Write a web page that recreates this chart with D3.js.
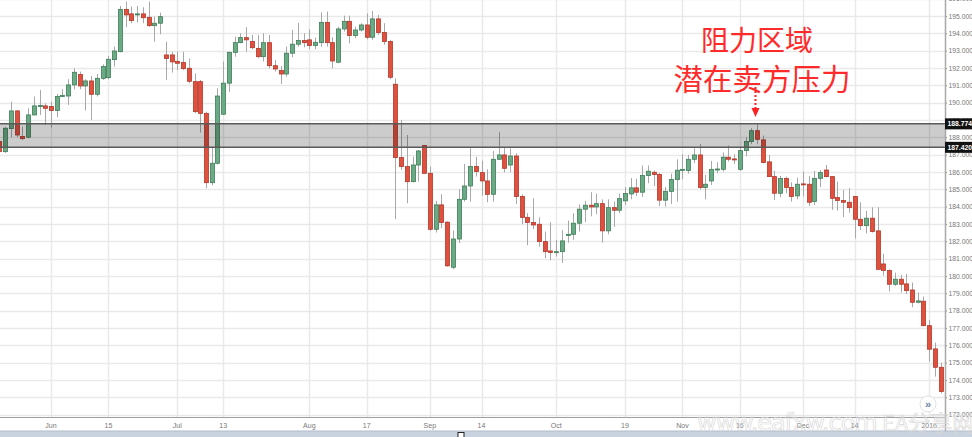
<!DOCTYPE html>
<html><head><meta charset="utf-8">
<script src="https://cdn.jsdelivr.net/npm/d3@7"></script>
<style>body{margin:0;background:#fff}svg{display:block}</style>
</head><body>
<script>
// ---- data ----
const startDate = "2015-05-19", endDate = "2016-01-06";
const holidays = ["2015-12-25", "2016-01-01"];
const open  = [187.75,187.17,188.5,189.52,188.04,188.0,189.29,189.79,189.81,189.77,189.54,190.35,190.38,191.02,191.62,190.96,191.25,190.48,191.4,191.44,192.48,192.94,195.38,195.12,195.06,195.12,194.92,194.44,194.58,192.75,192.75,192.38,192.31,191.98,191.21,191.21,189.38,185.38,186.5,189.33,191.12,192.9,193.46,193.75,193.52,193.13,192.65,193.46,192.13,191.85,191.65,192.85,193.37,193.58,193.62,193.29,193.46,194.63,193.46,192.33,194.25,194.69,193.87,194.19,194.48,193.77,194.83,194.04,193.52,191.06,186.83,186.31,185.44,186.4,187.52,185.92,182.69,184.1,183.1,180.5,182.13,184.42,185.19,186.31,185.96,185.48,184.71,186.73,186.98,186.4,186.92,184.58,183.38,183.08,182.98,181.98,181.44,181.35,181.4,182.33,182.4,183.04,183.85,184.08,183.98,184.17,182.6,183.94,183.79,184.33,184.73,185.08,184.83,185.79,185.98,185.85,184.37,184.88,185.56,186.1,186.08,186.73,186.98,185.1,185.48,186.15,186.15,186.85,186.75,186.15,187.23,187.75,188.38,187.85,186.58,185.73,184.77,185.62,185.1,184.62,185.31,185.29,184.29,185.63,186.11,185.73,184.52,184.35,184.25,184.58,183.27,182.9,183.33,182.6,180.69,180.31,179.52,179.81,179.54,179.19,178.48,178.54,177.13,175.79,174.73];
const high  = [187.85,188.6,190.06,189.58,188.62,189.67,190.35,190.73,189.96,190.06,190.5,190.77,191.35,191.98,191.79,191.35,191.54,191.65,192.21,192.69,193.23,195.58,195.83,195.54,195.58,195.5,195.83,194.96,195.19,193.52,192.94,192.94,192.94,192.54,191.69,191.31,189.48,187.46,190.83,192.37,192.94,193.81,194.0,194.35,193.9,193.9,194.0,193.9,192.46,192.12,193.23,194.19,194.6,194.0,194.23,193.75,195.21,195.25,193.77,194.38,195.02,195.02,194.38,194.58,195.15,195.29,195.06,194.58,193.62,191.4,189.0,188.13,186.88,187.27,187.56,186.31,184.33,184.71,183.15,182.62,185.0,186.46,187.37,186.88,186.65,186.15,187.21,188.29,187.4,187.35,187.08,184.71,183.62,184.48,183.38,182.56,183.1,182.08,182.65,183.19,183.62,184.13,184.33,184.83,184.75,184.42,184.42,184.29,184.75,185.13,185.65,185.6,186.37,186.37,186.08,185.94,185.13,185.9,186.73,187.02,186.98,187.37,187.6,185.83,186.63,186.56,187.12,187.52,187.02,187.46,188.0,188.52,188.79,188.1,186.98,186.06,185.77,185.73,185.4,185.67,186.02,185.77,186.06,186.11,186.4,185.77,185.44,184.96,185.06,184.62,184.25,183.75,183.96,183.96,181.27,180.38,180.19,180.06,180.12,179.62,179.04,178.81,177.46,176.15,175.0];
const low   = [187.1,187.1,188.0,188.0,187.85,187.94,189.25,189.29,188.71,188.56,189.15,190.31,189.87,190.77,190.77,189.54,189.0,190.35,191.31,191.35,192.08,192.9,194.35,194.58,194.62,194.58,194.38,193.52,193.94,191.31,191.73,191.88,191.88,191.12,189.38,188.27,185.06,185.23,186.42,189.29,190.62,192.65,193.42,192.94,193.08,192.56,192.37,191.98,191.79,191.08,191.5,192.62,193.23,193.19,193.08,193.08,193.23,193.23,191.98,192.27,194.1,193.42,193.71,194.1,193.65,193.62,193.9,193.33,191.35,183.27,186.12,184.19,185.4,185.44,185.9,182.6,182.5,182.75,180.54,180.38,181.9,184.29,184.29,185.73,184.63,184.25,184.29,186.69,185.98,186.0,184.15,182.98,181.77,182.71,181.69,181.02,180.9,181.12,180.75,181.92,182.08,182.56,183.1,183.44,183.56,181.92,182.4,182.83,183.62,184.08,184.42,184.6,184.56,185.35,185.19,184.02,184.0,184.15,184.29,185.58,185.9,186.5,185.0,184.42,185.25,185.92,186.02,186.6,186.46,186.06,186.9,187.6,187.6,186.5,185.7,184.38,184.54,184.77,184.29,184.42,184.58,184.04,184.1,185.12,185.69,183.81,183.77,183.4,183.65,182.17,182.65,182.46,182.5,180.35,180.02,179.1,179.42,179.04,178.96,178.19,178.42,177.1,175.06,174.19,173.23];
const close = [187.17,188.52,189.52,188.13,187.92,189.29,189.81,189.83,189.67,189.54,190.35,190.42,191.02,191.75,190.96,191.25,190.48,191.4,192.08,192.5,192.98,195.38,195.06,194.73,195.12,194.9,194.44,194.58,194.96,192.54,192.35,192.27,191.96,191.23,189.48,189.38,185.38,186.5,190.38,191.12,192.9,193.46,193.75,193.62,193.17,192.65,193.46,192.13,191.94,191.65,192.85,193.37,193.58,193.46,193.29,193.48,194.63,193.46,192.4,194.25,194.69,193.87,194.19,194.48,193.77,194.83,194.04,193.52,191.46,186.83,186.31,185.44,186.4,187.21,185.92,182.69,184.1,183.08,180.58,182.13,184.42,185.19,186.31,186.02,185.48,184.71,186.73,186.98,186.21,186.92,184.58,183.38,183.08,182.94,181.98,181.4,181.35,181.4,182.02,182.4,183.04,183.85,184.08,183.98,184.17,182.6,183.94,183.79,184.46,184.75,185.08,184.83,185.79,186.04,185.85,184.37,184.88,185.56,186.1,186.15,186.73,186.98,185.1,185.29,186.15,186.17,186.85,186.73,186.73,187.23,187.75,188.38,187.88,186.54,185.73,184.77,185.62,185.1,184.58,185.29,185.27,184.25,185.63,185.96,185.73,184.48,184.35,184.25,183.94,183.27,182.9,183.33,182.56,180.38,180.31,179.52,179.81,179.52,179.15,178.48,178.56,177.13,175.77,174.73,173.33];
const xTickDates  = ["2015-06-01","2015-06-15","2015-07-01","2015-07-13","2015-08-03","2015-08-17","2015-09-01","2015-09-14","2015-10-01","2015-10-19","2015-11-02","2015-11-16","2015-12-01","2015-12-14","2016-01-04"];
const xTickLabels = ["Jun","15","Jul","13","Aug","17","Sep","14","Oct","19","Nov","16","Dec","14","2016"];
const yTicks = d3.range(172, 197, 1);
const zoneTop = 188.774, zoneBottom = 187.420;
const noteLines = ["阻力区域", "潜在卖方压力"];

// ---- categories (trading days) ----
const fmt = d3.timeFormat("%Y-%m-%d"), parse = d3.timeParse("%Y-%m-%d");
const dates = d3.timeDay.range(parse(startDate), d3.timeDay.offset(parse(endDate), 1))
  .filter(d => d.getDay() !== 0 && d.getDay() !== 6)
  .map(fmt).filter(s => !holidays.includes(s));
const data = dates.map((d, i) => ({d, o: open[i], h: high[i], l: low[i], c: close[i]}));

// ---- layout ----
const W = 972, H = 437, plotR = 945, plotB = 417;
const svg = d3.select("body").append("svg").attr("width", W).attr("height", H)
  .style("font-family", "'Liberation Sans', Arial, sans-serif");
svg.append("rect").attr("width", W).attr("height", H).attr("fill", "#fff");

const x = d3.scaleBand().domain(dates).range([-3.53, -3.53 + 5.74 * dates.length]).padding(0);
const xc = d => x(d) + x.bandwidth() / 2;
const y = d3.scaleLinear().domain([171.86, 195.92]).range([plotB, 0]);

svg.append("defs").append("clipPath").attr("id", "plot")
  .append("rect").attr("x", 0).attr("y", 0).attr("width", plotR).attr("height", plotB);

// grid
const grid = svg.append("g");
grid.selectAll("line.h").data(yTicks).join("line")
  .attr("x1", 0).attr("x2", plotR).attr("y1", d => Math.round(y(d)) + 0.5).attr("y2", d => Math.round(y(d)) + 0.5)
  .attr("stroke", "#e9e9e9").attr("stroke-width", 1.5);
grid.selectAll("line.v").data(xTickDates).join("line")
  .attr("x1", d => Math.round(xc(d)) + 0.5).attr("x2", d => Math.round(xc(d)) + 0.5)
  .attr("y1", 0).attr("y2", plotB).attr("stroke", "#e9e9e9").attr("stroke-width", 1.5);

// candles
const cg = svg.append("g").attr("clip-path", "url(#plot)");
const up = d => d.c >= d.o;
cg.selectAll("line.wick").data(data).join("line")
  .attr("x1", d => Math.round(xc(d.d)) + 0.5).attr("x2", d => Math.round(xc(d.d)) + 0.5)
  .attr("y1", d => y(d.h)).attr("y2", d => y(d.l))
  .attr("stroke", "#a8a8a8").attr("stroke-width", 1);
cg.selectAll("rect.body").data(data).join("rect")
  .attr("x", d => Math.round(xc(d.d)) - 1.5).attr("width", 4)
  .attr("y", d => y(Math.max(d.o, d.c)))
  .attr("height", d => Math.max(1, Math.abs(y(d.o) - y(d.c))))
  .attr("fill", d => up(d) ? "#6aab86" : "#e0503f")
  .attr("stroke", d => up(d) ? "#3f7d58" : "#b3382b").attr("stroke-width", 0.8);

// resistance zone
const zg = svg.append("g");
zg.append("rect").attr("x", 0).attr("width", plotR)
  .attr("y", y(zoneTop)).attr("height", y(zoneBottom) - y(zoneTop))
  .attr("fill", "rgba(0,0,0,0.2)");
[zoneTop, zoneBottom].forEach(v => zg.append("line").attr("x1", 0).attr("x2", plotR)
  .attr("y1", y(v)).attr("y2", y(v)).attr("stroke", "#5a5a5a").attr("stroke-width", 1.5));

// right axis
const ay = svg.append("g").attr("transform", `translate(${plotR},0)`)
  .call(d3.axisRight(y).tickValues(yTicks).tickFormat(d3.format(".3f")).tickSize(2).tickPadding(1.5));
ay.select(".domain").remove();
ay.selectAll("line").attr("stroke", "#888");
ay.selectAll("text").attr("fill", "#777").style("font-size", "6.8px")
  .style("font-family", "'Liberation Sans', Arial, sans-serif");
svg.append("line").attr("x1", plotR + 0.5).attr("x2", plotR + 0.5).attr("y1", 0).attr("y2", 432)
  .attr("stroke", "#a9a9a9").attr("stroke-width", 1.5);

// zone labels on axis
[zoneTop, zoneBottom].forEach(v => {
  const g = svg.append("g").attr("transform", `translate(${plotR},${y(v)})`);
  g.append("rect").attr("x", 0).attr("y", -5.5).attr("width", 27).attr("height", 11).attr("fill", "#111");
  g.append("text").attr("x", 2.5).attr("y", 2.5).text(d3.format(".3f")(v))
    .attr("fill", "#fff").style("font-size", "6.8px").style("font-weight", "bold");
});

// bottom axis
const ax = svg.append("g").attr("transform", `translate(0,${plotB})`)
  .call(d3.axisBottom(x).tickValues(xTickDates).tickFormat((d, i) => xTickLabels[i]).tickSize(0).tickPadding(6));
ax.select(".domain").remove();
ax.selectAll("text").attr("fill", "#777").style("font-size", "7px")
  .style("font-family", "'Liberation Sans', Arial, sans-serif");
svg.append("line").attr("x1", 0).attr("x2", plotR).attr("y1", plotB + 0.5).attr("y2", plotB + 0.5)
  .attr("stroke", "#a0a0a0").attr("stroke-width", 1.2);

// scrollbar strip
svg.append("rect").attr("x", 0).attr("y", 431).attr("width", W).attr("height", 6).attr("fill", "#c9d2df");
svg.append("line").attr("x1", 0).attr("x2", W).attr("y1", 431).attr("y2", 431).attr("stroke", "#b3bccb");
svg.append("rect").attr("x", 458).attr("y", 432.5).attr("width", 6).attr("height", 5)
  .attr("fill", "#fff").attr("stroke", "#222").attr("stroke-width", 1);

// scroll button
svg.append("circle").attr("cx", 928).attr("cy", 404).attr("r", 8).attr("fill", "#fff").attr("stroke", "#e2e2e2");
svg.append("text").attr("x", 928).attr("y", 407.5).attr("text-anchor", "middle").text("»")
  .attr("fill", "#6b7fa3").style("font-size", "11px").style("font-weight", "bold");

// annotation
svg.append("text").attr("x", 757).attr("y", 51).attr("text-anchor", "middle").text(noteLines[0])
  .attr("fill", "#ff2b2b").style("font-size", "28px").style("font-family", "'Noto Sans CJK SC', sans-serif");
svg.append("text").attr("x", 762).attr("y", 90).attr("text-anchor", "middle").text(noteLines[1])
  .attr("fill", "#ff2b2b").style("font-size", "29.5px").style("font-family", "'Noto Sans CJK SC', sans-serif");
const arrowX = 755.5;
svg.append("line").attr("x1", arrowX).attr("x2", arrowX).attr("y1", 87).attr("y2", 108)
  .attr("stroke", "#ff2020").attr("stroke-width", 2).attr("stroke-dasharray", "2,2");
svg.append("path").attr("d", `M${arrowX - 4},108 L${arrowX + 4},108 L${arrowX},117 Z`).attr("fill", "#ff2020");

// watermark
svg.append("text").attr("x", 697).attr("y", 431).text("www.eafxw.com")
  .attr("fill", "none").attr("stroke", "#d8d8d8").attr("stroke-width", 0.7)
  .style("font-size", "24px").style("font-family", "'DejaVu Sans', sans-serif").style("letter-spacing", "-1px");
svg.append("text").attr("x", 882).attr("y", 431).text("EA分享网")
  .attr("fill", "none").attr("stroke", "#d8d8d8").attr("stroke-width", 0.7)
  .style("font-size", "22px").style("font-family", "'Noto Sans CJK SC', sans-serif");
</script>
</body></html>
